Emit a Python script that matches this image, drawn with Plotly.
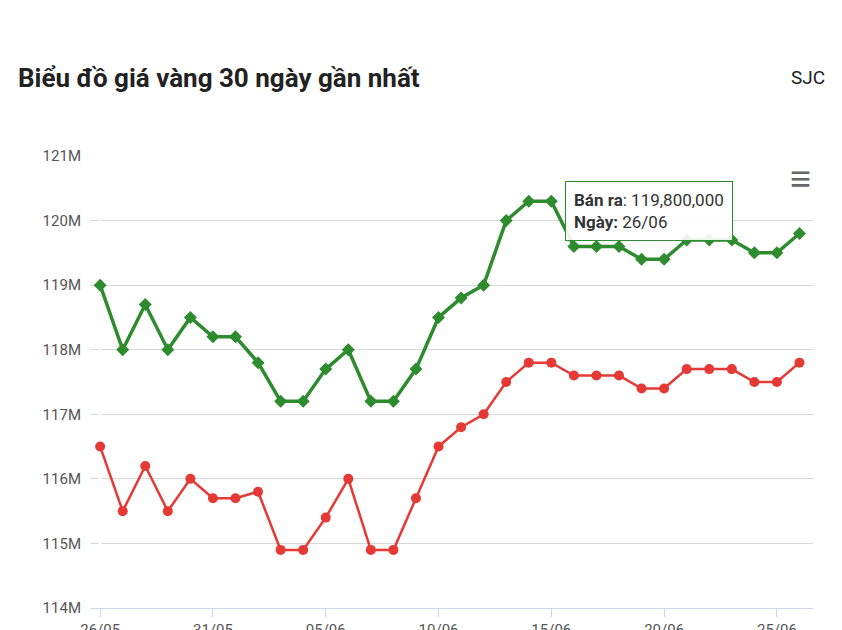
import plotly.graph_objects as go
import pandas as pd

dates = [d.strftime("%d/%m") for d in pd.date_range("2025-05-26", "2025-06-26")]
ban_ra = [119.0,118.0,118.7,118.0,118.5,118.2,118.2,117.8,117.2,117.2,117.7,118.0,117.2,117.2,117.7,118.5,
          118.8,119.0,120.0,120.3,120.3,119.6,119.6,119.6,119.4,119.4,119.7,119.7,119.7,119.5,119.5,119.8]
mua_vao = [116.5,115.5,116.2,115.5,116.0,115.7,115.7,115.8,114.9,114.9,115.4,116.0,114.9,114.9,115.7,116.5,
           116.8,117.0,117.5,117.8,117.8,117.6,117.6,117.6,117.4,117.4,117.7,117.7,117.7,117.5,117.5,117.8]
y_ticks = [114,115,116,117,118,119,120,121]

x = list(range(len(dates)))
fig = go.Figure()
fig.add_trace(go.Scatter(x=x, y=mua_vao, mode="lines+markers", name="Mua vào",
    line=dict(color="#e53935", width=2.5), marker=dict(size=10, color="#e53935")))
fig.add_trace(go.Scatter(x=x, y=ban_ra, mode="lines+markers", name="Bán ra",
    line=dict(color="#2e8b2e", width=3.5), marker=dict(size=10, symbol="diamond", color="#2e8b2e")))

tv = [0,5,10,15,20,25,30]
fig.update_layout(
    width=842, height=630, showlegend=False, plot_bgcolor="white", paper_bgcolor="white",
    margin=dict(l=82, r=37, t=148, b=30, autoexpand=False),
    font=dict(family="Roboto, Arial", color="#555"),
    xaxis=dict(range=[-0.45, 31.6], tickvals=tv, ticktext=[dates[i] for i in tv], showgrid=False,
               showline=True, linecolor="#ccd6eb", ticks="outside", tickcolor="#ccd6eb", ticklen=8,
               tickfont=dict(size=15, color="#555"), automargin=False),
    yaxis=dict(range=[114, 121], tickvals=y_ticks, ticktext=[f"{v}M" for v in y_ticks],
               gridcolor="#d8d8d8", zeroline=False, tickfont=dict(size=15, color="#555"),
               ticklabelstandoff=8, automargin=False),
    annotations=[
        dict(text="<b>Biểu đồ giá vàng 30 ngày gần nhất</b>", x=-0.102, y=1.173, xref="paper", yref="paper",
             showarrow=False, xanchor="left", yanchor="middle", font=dict(size=26, color="#222")),
        dict(text="SJC", x=1.02, y=1.173, xref="paper", yref="paper", showarrow=False,
             xanchor="right", yanchor="middle", font=dict(size=19, color="#222")),
        dict(text="≡", x=1.0, y=1.0, xref="paper", yref="paper", showarrow=False,
             xanchor="right", yanchor="top", font=dict(size=36, color="#666")),
        dict(text="<b>Bán ra</b>: 119,800,000<br><b>Ngày:</b> 26/06", x=20.6, y=120.15, xref="x", yref="y",
             showarrow=False, xanchor="left", yanchor="middle", align="left",
             bgcolor="rgba(255,255,255,0.9)", bordercolor="#2e8b2e", borderwidth=1, borderpad=8,
             font=dict(size=17, color="#333")),
    ],
)
fig.write_html("out.html")
